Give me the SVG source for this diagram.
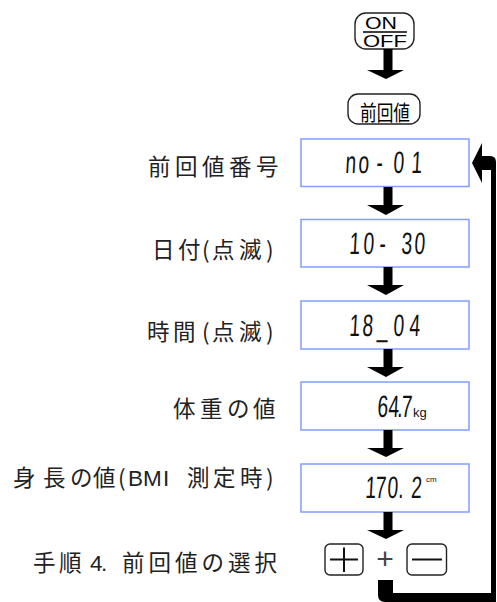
<svg xmlns="http://www.w3.org/2000/svg" width="497" height="602" viewBox="0 0 497 602">
<style>
.lbl{font-family:"Noto Sans CJK JP","Liberation Sans",sans-serif;font-size:22.5px;fill:#222}
.lat{font-family:"Liberation Sans",sans-serif}
.box{fill:#fff;stroke:#809fff;stroke-width:1.5}
.lcd{font-family:"Liberation Sans",sans-serif;font-size:31px;fill:#111}
.unit{font-family:"Liberation Sans",sans-serif;fill:#111}
.btn{fill:#fff;stroke:#222;stroke-width:1.4}
.bline{stroke:#111;stroke-width:2;fill:none}
.arr{fill:#000}
</style>
<rect width="497" height="602" fill="#fff"/>
<g id="btn-onoff">
<rect class="btn" x="355" y="13" width="59" height="36" rx="11"/>
<text x="365" y="29" font-family="Liberation Sans,sans-serif" font-size="16" textLength="32" lengthAdjust="spacingAndGlyphs">ON</text>
<line x1="363" y1="32" x2="407" y2="32" stroke="#000" stroke-width="1.5"/>
<text x="363" y="47" font-family="Liberation Sans,sans-serif" font-size="16" textLength="44" lengthAdjust="spacingAndGlyphs">OFF</text>
</g>
<g id="btn-prev">
<rect class="btn" x="348" y="94" width="72" height="30" rx="10"/>
<text x="360" y="120" font-family="Noto Sans CJK JP,sans-serif" font-size="21" textLength="50" lengthAdjust="spacingAndGlyphs">前回値</text>
</g>
<g id="n1">
<text class="lbl" x="148 175 202 229 256" y="174.5">前回値番号</text>
<rect class="box" x="301" y="139" width="168" height="47.5"/>
<text class="lcd" transform="translate(345 173) scale(0.62 1) skewX(-5)" x="0 21 50 77.4 106.5">no-01</text>
</g>
<g id="n2">
<text class="lbl" x="152 178 202 212 239 266" y="257.5">日付(点滅)</text>
<rect class="box" x="301" y="219.5" width="168" height="47.5"/>
<text class="lcd" transform="translate(349 254) scale(0.62 1) skewX(-5)" x="0 22.6 48.4 83.9 104.8">10-30</text>
</g>
<g id="n3">
<text class="lbl" x="147 173 202 212 239 266" y="339.5">時間(点滅)</text>
<rect class="box" x="301" y="301" width="168" height="48"/>
<text class="lcd" transform="translate(349 336) scale(0.62 1) skewX(-5)" x="0 21 45.2 71 96.8">18_04</text>
</g>
<g id="n4">
<text class="lbl" x="173 200 227 253" y="416.5">体重の値</text>
<rect class="box" x="301" y="382" width="168" height="48"/>
<text class="lcd" transform="translate(377 417) scale(0.62 1) skewX(-5)" x="0 17.7 32.3 38.7">64.7</text>
<text class="unit" x="413" y="417" font-size="13">kg</text>
</g>
<g id="n5">
<text class="lbl" y="485.5"><tspan x="13 43 70 93 118">身長の値(</tspan><tspan class="lat" x="128 143 163">BMI</tspan><tspan x="187 213 240 266">測定時)</tspan></text>
<rect class="box" x="301" y="464" width="168" height="48"/>
<text class="lcd" transform="translate(365 498) scale(0.62 1) skewX(-5)" x="0 16 35.5 53.2 74">170.2</text>
<text class="unit" x="426" y="482" font-size="8">cm</text>
</g>
<g id="n6">
<text class="lbl" y="570.5"><tspan x="33 59">手順</tspan><tspan class="lat" x="90 101">4.</tspan><tspan x="122 148.5 175 201.5 228 254.5">前回値の選択</tspan></text>
<rect class="btn" x="325" y="544" width="38" height="31" rx="5"/>
<line class="bline" x1="330" y1="559.5" x2="358" y2="559.5"/>
<line class="bline" x1="344" y1="547.5" x2="344" y2="572"/>
<text x="385" y="569" text-anchor="middle" font-family="Liberation Sans,sans-serif" font-size="30" fill="#444">+</text>
<rect class="btn" x="407" y="544" width="39.5" height="31" rx="5"/>
<line class="bline" x1="412" y1="559.5" x2="442" y2="559.5"/>
</g>
<g id="connectors">
<path class="arr" d="M383.5 49H392.5V70H404L386 79L367 70H383.5Z"/>
<path class="arr" d="M383.5 187H392.5V205H404L386 215L367 205H383.5Z"/>
<path class="arr" d="M383.5 267H392.5V285H404L386 295L367 285H383.5Z"/>
<path class="arr" d="M383.5 349H392.5V367H404L386 377L367 367H383.5Z"/>
<path class="arr" d="M383.5 430H392.5V448H404L386 457L367 448H383.5Z"/>
<path class="arr" d="M383.5 512H392.5V530H404L386 539L367 530H383.5Z"/>
<path class="arr" d="M472 163L482 143V156H490Q496 156 496 162V602H385Q378 602 378 595V580H393V593H491V170H482V183Z"/>
</g>
</svg>
